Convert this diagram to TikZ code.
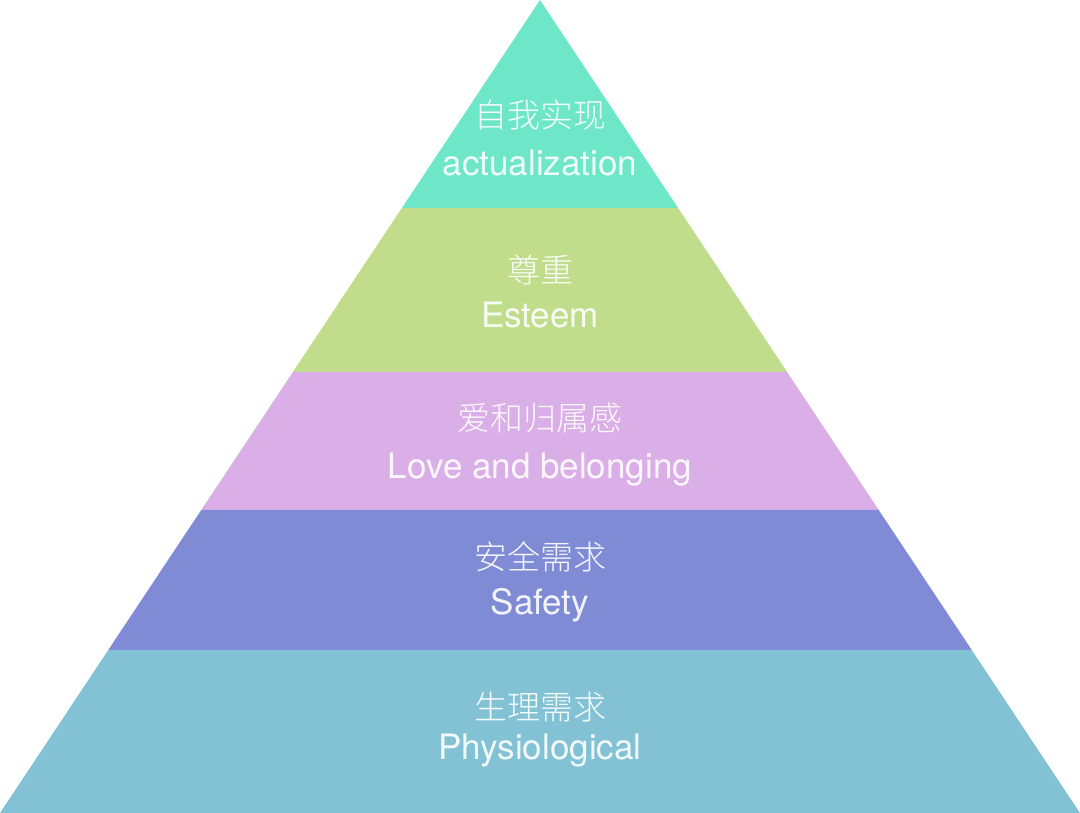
\documentclass[tikz,border=0pt]{standalone}
\usepackage{fontspec}
\setmainfont{TeX Gyre Heros}
\IfFontExistsTF{Noto Sans CJK SC Light}
  {\newfontfamily\cjk{Noto Sans CJK SC Light}}
  {\newfontfamily\cjk{Noto Sans CJK SC}}
\usetikzlibrary{calc}
\definecolor{cTop}{HTML}{6EE6C8}
\definecolor{cEst}{HTML}{BFDD8A}
\definecolor{cLove}{HTML}{DAAEE6}
\definecolor{cSafe}{HTML}{7F8BD4}
\definecolor{cPhys}{HTML}{82C2D4}
\tikzset{
  zh/.style={text=white, text opacity=0.92, font=\cjk\fontsize{33}{33}\selectfont, inner sep=0pt, anchor=center},
  en/.style={text=white, text opacity=0.9, font=\fontsize{35}{35}\selectfont, inner sep=0pt, anchor=base}
}
\begin{document}
\begin{tikzpicture}[x=1pt,y=-1pt]
\useasboundingbox (0,0) rectangle (1080,813);
\coordinate (apex) at (540,0);
\coordinate (bl) at (0,813);
\coordinate (br) at (1080,813);
\foreach \n/\y in {1/208,2/372,3/510,4/650}{
  \coordinate (L\n) at ($(apex)!\y/813!(bl)$);
  \coordinate (R\n) at ($(apex)!\y/813!(br)$);
}
\fill[cTop]  (apex) -- (L1) -- (R1) -- cycle;
\fill[cEst]  (L1) -- (L2) -- (R2) -- (R1) -- cycle;
\fill[cLove] (L2) -- (L3) -- (R3) -- (R2) -- cycle;
\fill[cSafe] (L3) -- (L4) -- (R4) -- (R3) -- cycle;
\fill[cPhys] (L4) -- (bl) -- (br) -- (R4) -- cycle;
\node[zh] (z1) at (540,115) {自我实现};
\node[en] (e1) at (540,176) {actualization};
\node[zh] (z2) at (540,270) {尊重};
\node[en] (e2) at (540,328) {Esteem};
\node[zh] (z3) at (540,418) {爱和归属感};
\node[en] (e3) at (540,478) {Love and belonging};
\node[zh] (z4) at (540,557) {安全需求};
\node[en] (e4) at (540,614) {Safety};
\node[zh] (z5) at (540,707) {生理需求};
\node[en] (e5) at (540,759) {Physiological};
\end{tikzpicture}
\end{document}
